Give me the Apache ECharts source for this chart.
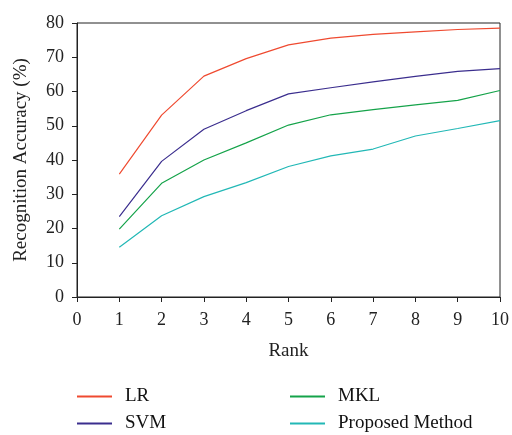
<!DOCTYPE html>
<html>
<head>
<meta charset="utf-8">
<script src="https://cdn.jsdelivr.net/npm/echarts@6/dist/echarts.min.js"></script>
<style>
  html, body { margin: 0; padding: 0; background: #fff; }
  #main { width: 512px; height: 435px; }
</style>
</head>
<body>
<div id="main"></div>
<script>
// rank 1..10
const ranks = [1, 2, 3, 4, 5, 6, 7, 8, 9, 10];
const lr = [35.9, 53.1, 64.5, 69.6, 73.6, 75.6, 76.7, 77.4, 78.1, 78.5];
const svm = [23.5, 39.6, 49.0, 54.4, 59.3, 61.1, 62.8, 64.4, 65.9, 66.7];
const mkl = [19.8, 33.2, 40.0, 45.0, 50.2, 53.2, 54.7, 56.1, 57.4, 60.3];
const proposed = [14.5, 23.7, 29.3, 33.4, 38.1, 41.2, 43.2, 47.0, 49.2, 51.5];

const font = '"Liberation Serif", "DejaVu Serif", serif';
const axisColor = '#222';

function pairs(vals) {
    return ranks.map((r, i) => [r, vals[i]]);
}

function mkSeries(name, vals, color) {
    return {
        name: name,
        type: 'line',
        data: pairs(vals),
        showSymbol: false,
        symbol: 'none',
        lineStyle: { color: color, width: 1.2 },
        itemStyle: { color: color },
        animation: false
    };
}

// one legend per entry so each can sit where the original puts it
function mkLegend(name, left, top) {
    return {
        left: left, top: top,
        itemWidth: 35, itemHeight: 2, icon: 'rect',
        textStyle: { fontFamily: font, fontSize: 19, color: '#111', padding: [0, 0, 0, 8] },
        data: [name]
    };
}

const chart = echarts.init(document.getElementById('main'));
chart.setOption({
    backgroundColor: '#fff',
    grid: { left: 77, right: 11, top: 23, bottom: 138, show: true, borderColor: axisColor, borderWidth: 1 },
    legend: [
        mkLegend('LR', 72, 382),
        mkLegend('SVM', 72, 409),
        mkLegend('MKL', 285, 382),
        mkLegend('Proposed Method', 285, 409)
    ],
    xAxis: {
        type: 'value', min: 0, max: 10, interval: 1,
        name: 'Rank', nameLocation: 'middle', nameGap: 45,
        nameTextStyle: { fontFamily: font, fontSize: 19, color: '#222' },
        axisLine: { lineStyle: { color: axisColor } },
        axisTick: { inside: false, length: 5, lineStyle: { color: axisColor } },
        axisLabel: { fontFamily: font, fontSize: 18, color: '#222', margin: 14 },
        splitLine: { show: false }
    },
    yAxis: {
        type: 'value', min: 0, max: 80, interval: 10,
        name: 'Recognition Accuracy (%)', nameLocation: 'middle', nameGap: 46,
        nameTextStyle: { fontFamily: font, fontSize: 19, color: '#222' },
        axisLine: { show: true, lineStyle: { color: axisColor } },
        axisTick: { show: true, inside: false, length: 5, lineStyle: { color: axisColor } },
        axisLabel: { fontFamily: font, fontSize: 18, color: '#222', margin: 13 },
        splitLine: { show: false }
    },
    series: [
        mkSeries('LR', lr, '#ef4a30'),
        mkSeries('SVM', svm, '#3b2e8e'),
        mkSeries('MKL', mkl, '#15a34a'),
        mkSeries('Proposed Method', proposed, '#22b8b6')
    ]
});
</script>
</body>
</html>
